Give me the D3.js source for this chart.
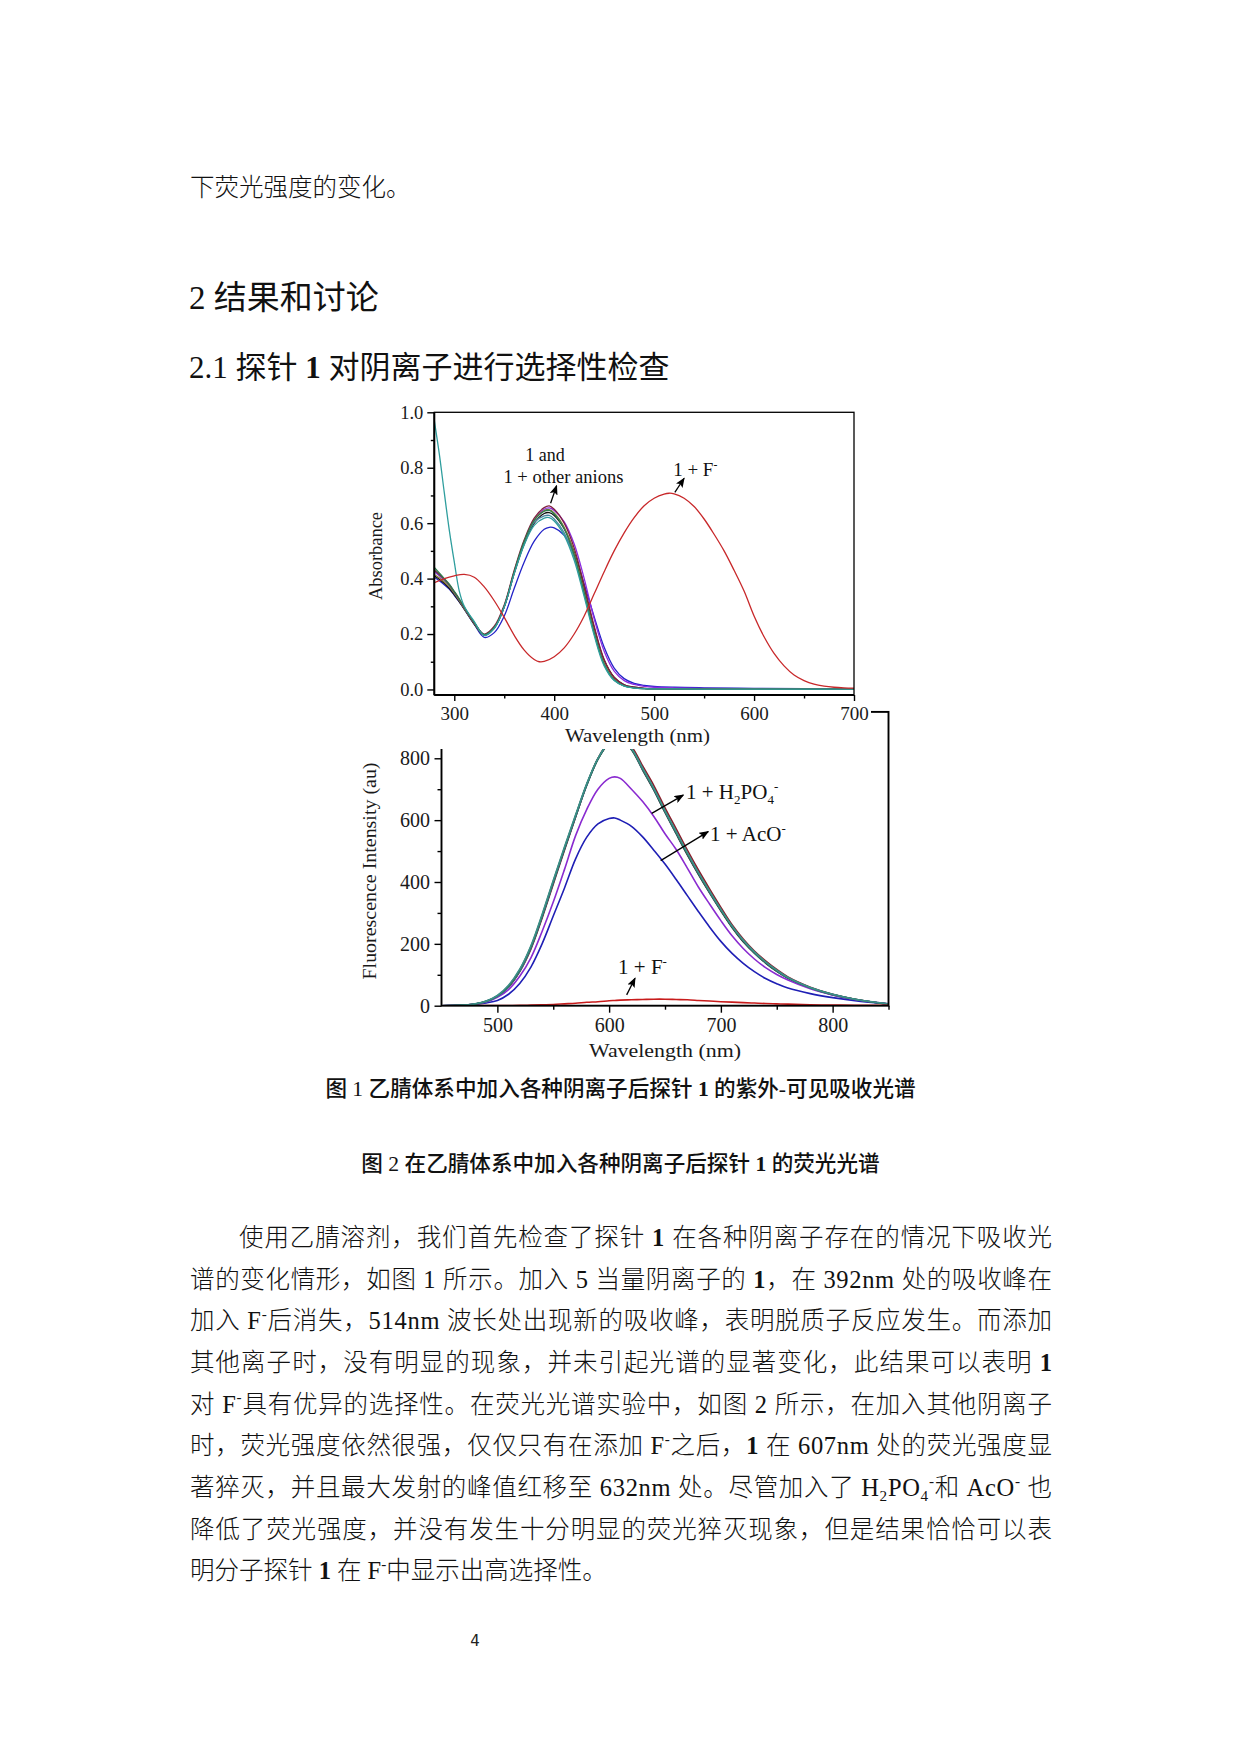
<!DOCTYPE html>
<html><head><meta charset="utf-8">
<script src="https://cdn.jsdelivr.net/npm/d3@7"></script>
<style>
html,body{margin:0;padding:0;background:#fff;}
svg{display:block;}
text{white-space:pre;}
</style></head>
<body>
<svg id="page" width="1240" height="1754"></svg>
<script>
// ---------------- DATA ----------------
// UV-vis absorption (top chart)
const wlAbs = [280,285,290,295,300,305,310,320,330,340,350,360,370,380,390,395,400,410,420,430,440,450,460,470,480,490,500,520,550,600,650,700];
const absMaroon = [0.43,0.415,0.398,0.378,0.352,0.325,0.295,0.24,0.2,0.228,0.305,0.43,0.54,0.618,0.656,0.662,0.65,0.6,0.51,0.375,0.228,0.108,0.044,0.017,0.008,0.004,0.003,0.002,0.002,0.001,0.001,0.001];
const absBlack  = [0.41,0.398,0.383,0.365,0.342,0.317,0.29,0.236,0.196,0.222,0.298,0.42,0.525,0.6,0.635,0.638,0.628,0.58,0.495,0.365,0.222,0.105,0.043,0.017,0.008,0.004,0.003,0.002,0.002,0.001,0.001,0.001];
const absPurple = [0.425,0.41,0.394,0.375,0.35,0.323,0.294,0.24,0.198,0.222,0.298,0.42,0.53,0.61,0.65,0.655,0.646,0.605,0.525,0.4,0.255,0.138,0.066,0.032,0.018,0.011,0.008,0.006,0.004,0.003,0.002,0.002];
const absBlue   = [0.405,0.392,0.378,0.362,0.34,0.316,0.29,0.235,0.188,0.205,0.265,0.365,0.46,0.535,0.578,0.585,0.583,0.556,0.49,0.38,0.262,0.152,0.077,0.039,0.022,0.015,0.011,0.008,0.006,0.004,0.003,0.003];
const absTealUV = [0.97,0.85,0.71,0.575,0.46,0.355,0.3,0.245,0.195,0.22,0.298,0.418,0.522,0.592,0.618,0.62,0.608,0.556,0.466,0.335,0.195,0.085,0.032,0.012,0.005,0.003,0.002,0.002,0.001,0.001,0.001,0.001];
const absGreen  = [0.44,0.42,0.4,0.38,0.354,0.327,0.297,0.242,0.198,0.224,0.3,0.425,0.535,0.61,0.643,0.646,0.633,0.58,0.485,0.348,0.205,0.09,0.034,0.013,0.006,0.003,0.002,0.002,0.001,0.001,0.001,0.001];
const absOlive  = [0.415,0.403,0.388,0.37,0.347,0.32,0.292,0.238,0.196,0.223,0.3,0.424,0.533,0.61,0.645,0.649,0.637,0.585,0.492,0.356,0.212,0.096,0.037,0.014,0.006,0.003,0.002,0.002,0.001,0.001,0.001,0.001];
const absSlate  = [0.43,0.414,0.396,0.376,0.35,0.323,0.294,0.24,0.197,0.223,0.299,0.422,0.53,0.603,0.626,0.628,0.615,0.565,0.476,0.343,0.202,0.09,0.034,0.013,0.006,0.003,0.002,0.002,0.001,0.001,0.001,0.001];
// 1 + F- absorption
const wlAbsF = [280,290,300,310,320,330,340,350,360,370,380,385,390,400,410,420,430,440,450,460,470,480,490,500,510,515,520,530,540,550,560,570,580,590,600,610,620,630,640,650,660,670,680,690,700];
const absF   = [0.385,0.4,0.41,0.415,0.405,0.37,0.32,0.26,0.195,0.142,0.108,0.1,0.101,0.118,0.15,0.2,0.265,0.345,0.425,0.5,0.565,0.62,0.663,0.69,0.705,0.708,0.706,0.69,0.66,0.615,0.56,0.5,0.43,0.355,0.265,0.19,0.13,0.085,0.052,0.032,0.019,0.012,0.008,0.006,0.005];

// Fluorescence (bottom chart)
const wlFl = [450,460,470,480,490,500,510,520,530,540,550,560,570,580,590,600,605,610,620,630,640,650,660,670,680,690,700,710,720,730,740,750,760,780,800,820,850];
const flMaroon = [0,0.5,2,5,13,30,60,110,183,283,393,503,610,715,800,855,868,868,838,775,712,640,572,503,438,377,318,262,216,177,145,117,93,60,37,21,5];
const flBlack  = [0,0.5,2,5,14,31,62,113,188,288,398,507,612,714,797,850,862,860,828,762,697,625,556,488,424,364,307,253,207,170,138,111,89,57,35,20,5];
const flGreen  = [0,0.5,2,5,14,32,64,116,191,292,402,510,615,716,798,852,864,862,830,766,701,629,560,492,428,368,310,256,210,172,140,113,90,58,36,21,5];
const flTeal   = [0,0.5,2,6,15,33,66,118,194,295,405,513,617,718,800,853,865,864,832,768,703,631,563,495,430,370,312,258,212,174,142,115,91,59,37,21,6];
const flSlate  = [0,0.5,2,5,13,30,61,111,186,287,397,506,611,713,797,851,864,862,829,763,699,627,558,490,426,366,309,255,209,171,139,112,90,58,36,21,5];
const flPurple = [0,0.5,2,5,12,27,52,95,155,240,335,440,550,635,700,735,740,735,700,660,612,556,505,445,383,328,275,226,185,151,123,101,83,55,35,20,6];
const flBlue   = [0,0.5,1.5,4,9,17,37,72,125,200,290,380,475,545,588,605,607,600,580,546,503,458,408,356,304,254,208,169,137,110,88,71,57,39,26,16,5];
const flF      = [0,0,0,0,0.3,0.5,0.8,1,2,3,4,6,8,11,13,16,17,18,19,20,21,21,20,19,17,15,13,11.5,10,8.5,7,6,5,3,2,1.5,1];

// ticks
const absXTicks = [300,400,500,600,700];
const absXMinor = [350,450,550,650];
const absYTicks = [0,0.2,0.4,0.6,0.8,1.0];
const absYMinor = [0.1,0.3,0.5,0.7,0.9];
const flXTicks = [500,600,700,800];
const flXMinor = [550,650,750,850];
const flYTicks = [0,200,400,600,800];
const flYMinor = [100,300,500,700,900];

// text content
const introLine = "下荧光强度的变化。";
const heading1 = "2 结果和讨论";
const heading2 = "2.1 探针 [b:1] 对阴离子进行选择性检查";
const caption1 = "图 1 乙腈体系中加入各种阴离子后探针 [b:1] 的紫外-可见吸收光谱";
const caption2 = "图 2 在乙腈体系中加入各种阴离子后探针 [b:1] 的荧光光谱";
const bodyLines = [
  "使用乙腈溶剂，我们首先检查了探针 [b:1] 在各种阴离子存在的情况下吸收光",
  "谱的变化情形，如图 1 所示。加入 5 当量阴离子的 [b:1]，在 392nm 处的吸收峰在",
  "加入 F[sup:-]后消失，514nm 波长处出现新的吸收峰，表明脱质子反应发生。而添加",
  "其他离子时，没有明显的现象，并未引起光谱的显著变化，此结果可以表明 [b:1]",
  "对 F[sup:-]具有优异的选择性。在荧光光谱实验中，如图 2 所示，在加入其他阴离子",
  "时，荧光强度依然很强，仅仅只有在添加 F[sup:-]之后，[b:1] 在 607nm 处的荧光强度显",
  "著猝灭，并且最大发射的峰值红移至 632nm 处。尽管加入了 H[sub:2]PO[sub:4][sup:-]和 AcO[sup:-] 也",
  "降低了荧光强度，并没有发生十分明显的荧光猝灭现象，但是结果恰恰可以表",
  "明分子探针 [b:1] 在 F[sup:-]中显示出高选择性。"
];
const pageNumber = "4";

// ---------------- DRAW ----------------
const SERIF = "'Liberation Serif','Times New Roman',serif";
const MIX = "'Liberation Serif','Noto Sans CJK SC',serif";
const svg = d3.select('#page');

function rich(sel, str, o) {
  const t = sel.append('text').attr('x', o.x).attr('y', o.y)
    .attr('font-size', o.size).attr('font-family', o.family || MIX)
    .attr('font-weight', o.weight || 400).attr('fill', o.fill || '#111');
  if (o.anchor) t.attr('text-anchor', o.anchor);
  const re = /\[(b|sup|sub):([^\]]*)\]/g;
  let last = 0, m; const parts = [];
  while ((m = re.exec(str))) {
    if (m.index > last) parts.push(['n', str.slice(last, m.index)]);
    parts.push([m[1], m[2]]); last = re.lastIndex;
  }
  if (last < str.length) parts.push(['n', str.slice(last)]);
  let off = 0;
  parts.forEach(([k, s]) => {
    const sp = t.append('tspan').text(s);
    let target = 0;
    if (k === 'sup') { target = -o.size * 0.42; sp.attr('font-size', o.size * 0.62).attr('font-family', SERIF); }
    else if (k === 'sub') { target = o.size * 0.22; sp.attr('font-size', o.size * 0.62).attr('font-family', SERIF); }
    else if (k === 'b') { sp.attr('font-weight', 700).attr('font-family', SERIF); }
    if (target !== off) { sp.attr('dy', target - off); off = target; }
  });
  return t;
}

// page text
rich(svg, introLine, {x: 190, y: 195.5, size: 24.5, weight: 300});
rich(svg, heading1, {x: 189, y: 308.5, size: 33});
rich(svg, heading2, {x: 189, y: 377.5, size: 31});
rich(svg, caption1, {x: 620.5, y: 1096, size: 21.6, anchor: 'middle', weight: 500});
rich(svg, caption2, {x: 620.5, y: 1171, size: 21.6, anchor: 'middle', weight: 500});
bodyLines.forEach((s, i) => {
  const x = i === 0 ? 239 : 190;
  const t = rich(svg, s, {x: x, y: 1245.8 + i * 41.7, size: 24.5, weight: 300});
  if (i < bodyLines.length - 1) {
    const w = t.node().getComputedTextLength();
    const n = t.node().getNumberOfChars();
    const extra = (1052 - x) - w;
    if (n > 1) t.attr('letter-spacing', extra / (n - 1));
  }
});
svg.append('text').attr('x', 475).attr('y', 1646).attr('text-anchor', 'middle')
  .attr('font-family', "'DejaVu Sans',sans-serif").attr('font-size', 15).attr('fill', '#222').text(pageNumber);

// arrow marker
const defs = svg.append('defs');
defs.append('marker').attr('id', 'ah').attr('markerUnits', 'userSpaceOnUse')
  .attr('markerWidth', 10).attr('markerHeight', 8).attr('refX', 9).attr('refY', 4)
  .attr('orient', 'auto').append('path').attr('d', 'M0,0 L10,4 L0,8 L2,4 Z').attr('fill', '#000');

function styleAxis(g, size) {
  g.attr('font-family', SERIF).attr('font-size', size);
  g.select('.domain').remove();
  g.selectAll('line').attr('stroke', '#000').attr('stroke-width', 1.4);
  g.selectAll('text').attr('fill', '#1a1a1a');
}

// ======== Bottom chart (fluorescence) ========
const xF = d3.scaleLinear().domain([450, 850]).range([441.5, 888.5]);
const yF = d3.scaleLinear().domain([0, 950]).range([1005.7, 711.9]);
const gF = svg.append('g');
defs.append('clipPath').attr('id', 'clipF').append('rect')
  .attr('x', xF.range()[0]).attr('y', yF.range()[1])
  .attr('width', xF.range()[1] - xF.range()[0]).attr('height', yF.range()[0] - yF.range()[1]);

const flSeries = [
  {v: flMaroon, c: '#8b1c2a'}, {v: flBlack, c: '#151515'},
  {v: flBlue, c: '#1f1fb5'}, {v: flPurple, c: '#8a2bd0'},
  {v: flSlate, c: '#3f7596'}, {v: flGreen, c: '#2f6f45'},
  {v: flTeal, c: '#3b8f8a'}, {v: flF, c: '#c81c1c'}
];
const lineF = d3.line().x((d, i) => xF(wlFl[i])).y(d => yF(d)).curve(d3.curveCatmullRom.alpha(0.5));
gF.append('g').attr('clip-path', 'url(#clipF)').selectAll('path').data(flSeries).join('path')
  .attr('d', d => lineF(d.v)).attr('fill', 'none').attr('stroke', d => d.c).attr('stroke-width', 1.6);

const fxAxis = gF.append('g').attr('transform', `translate(0,${yF.range()[0]})`)
  .call(d3.axisBottom(xF).tickValues(flXTicks).tickSize(7).tickSizeOuter(0).tickPadding(5).tickFormat(d3.format('d')));
styleAxis(fxAxis, 20);
const fxMin = gF.append('g').attr('transform', `translate(0,${yF.range()[0]})`)
  .call(d3.axisBottom(xF).tickValues(flXMinor).tickSize(4).tickSizeOuter(0).tickFormat(''));
styleAxis(fxMin, 10);
const fyAxis = gF.append('g').attr('transform', `translate(${xF.range()[0]},0)`)
  .call(d3.axisLeft(yF).tickValues(flYTicks).tickSize(7).tickSizeOuter(0).tickPadding(4.5).tickFormat(d3.format('d')));
styleAxis(fyAxis, 20);
const fyMin = gF.append('g').attr('transform', `translate(${xF.range()[0]},0)`)
  .call(d3.axisLeft(yF).tickValues(flYMinor).tickSize(4).tickSizeOuter(0).tickFormat(''));
styleAxis(fyMin, 10);
gF.append('rect').attr('x', xF.range()[0]).attr('y', yF.range()[1])
  .attr('width', xF.range()[1] - xF.range()[0]).attr('height', yF.range()[0] - yF.range()[1])
  .attr('fill', 'none').attr('stroke', '#000').attr('stroke-width', 1.9);

gF.append('text').attr('x', 665).attr('y', 1057).attr('text-anchor', 'middle')
  .attr('font-family', SERIF).attr('font-size', 19.5).attr('textLength', 152).attr('lengthAdjust', 'spacingAndGlyphs')
  .attr('fill', '#1a1a1a').text('Wavelength (nm)');
gF.append('text').attr('transform', 'translate(376,871) rotate(-90)').attr('text-anchor', 'middle')
  .attr('font-family', SERIF).attr('font-size', 19.5).attr('textLength', 217).attr('lengthAdjust', 'spacingAndGlyphs')
  .attr('fill', '#1a1a1a').text('Fluorescence Intensity (au)');

// annotations bottom
const annF = [
  {t: '1 + H[sub:2]PO[sub:4][sup:-]', tx: 668.8, ty: 668, a: [638.1, 622, 666.4, 681]},
  {t: '1 + AcO[sup:-]', tx: 690.3, ty: 532, a: [646.1, 469, 688.7, 563]},
  {t: '1 + F[sup:-]', tx: 608, ty: 102, a: [615.7, 35, 623.2, 89]}
];
annF.forEach(d => {
  rich(gF, d.t, {x: xF(d.tx), y: yF(d.ty), size: 21, family: SERIF, fill: '#111'});
  gF.append('line').attr('x1', xF(d.a[0])).attr('y1', yF(d.a[1])).attr('x2', xF(d.a[2])).attr('y2', yF(d.a[3]))
    .attr('stroke', '#000').attr('stroke-width', 1.3).attr('marker-end', 'url(#ah)');
});

// ======== Top chart (absorption) ========
const xA = d3.scaleLinear().domain([280, 700]).range([434.3, 854]);
const yA = d3.scaleLinear().domain([-0.02, 1.0]).range([695, 412.3]);
const gA = svg.append('g');
// white background of the top figure, overlapping the lower one
gA.append('rect').attr('x', 330).attr('y', 395).attr('width', 541).attr('height', 354).attr('fill', '#fff');
defs.append('clipPath').attr('id', 'clipA').append('rect')
  .attr('x', xA.range()[0]).attr('y', yA.range()[1])
  .attr('width', xA.range()[1] - xA.range()[0]).attr('height', yA.range()[0] - yA.range()[1]);

const absSeries = [
  {v: absBlue, c: '#2323c8'}, {v: absPurple, c: '#8a2be2'}, {v: absBlack, c: '#111111'},
  {v: absOlive, c: '#8a7d3a'}, {v: absSlate, c: '#4a86a0'}, {v: absMaroon, c: '#80203f'},
  {v: absGreen, c: '#2e7d4e'}, {v: absTealUV, c: '#2f9e9e'}
];
const lineA = d3.line().x((d, i) => xA(wlAbs[i])).y(d => yA(d)).curve(d3.curveCatmullRom.alpha(0.5));
const lineAF = d3.line().x((d, i) => xA(wlAbsF[i])).y(d => yA(d)).curve(d3.curveCatmullRom.alpha(0.5));
const cA = gA.append('g').attr('clip-path', 'url(#clipA)');
cA.selectAll('path.s').data(absSeries).join('path').attr('class', 's')
  .attr('d', d => lineA(d.v)).attr('fill', 'none').attr('stroke', d => d.c).attr('stroke-width', 1.3);
cA.append('path').attr('d', lineAF(absF)).attr('fill', 'none').attr('stroke', '#c8282a').attr('stroke-width', 1.3);

const axA = gA.append('g').attr('transform', `translate(0,${yA.range()[0]})`)
  .call(d3.axisBottom(xA).tickValues(absXTicks).tickSize(6).tickSizeOuter(0).tickPadding(6).tickFormat(d3.format('d')));
styleAxis(axA, 19);
const axAm = gA.append('g').attr('transform', `translate(0,${yA.range()[0]})`)
  .call(d3.axisBottom(xA).tickValues(absXMinor).tickSize(3.5).tickSizeOuter(0).tickFormat(''));
styleAxis(axAm, 10);
const ayA = gA.append('g').attr('transform', `translate(${xA.range()[0]},0)`)
  .call(d3.axisLeft(yA).tickValues(absYTicks).tickSize(7).tickSizeOuter(0).tickPadding(4).tickFormat(d3.format('.1f')));
styleAxis(ayA, 18.5);
const ayAm = gA.append('g').attr('transform', `translate(${xA.range()[0]},0)`)
  .call(d3.axisLeft(yA).tickValues(absYMinor).tickSize(3.5).tickSizeOuter(0).tickFormat(''));
styleAxis(ayAm, 10);
gA.append('rect').attr('x', xA.range()[0]).attr('y', yA.range()[1])
  .attr('width', xA.range()[1] - xA.range()[0]).attr('height', yA.range()[0] - yA.range()[1])
  .attr('fill', 'none').attr('stroke', '#000').attr('stroke-width', 1.3);
gA.append('line').attr('x1', xA.range()[0]).attr('x2', xA.range()[0]).attr('y1', yA.range()[1]).attr('y2', yA.range()[0])
  .attr('stroke', '#000').attr('stroke-width', 2);
gA.append('line').attr('x1', xA.range()[0]).attr('x2', xA.range()[1]).attr('y1', yA.range()[0]).attr('y2', yA.range()[0])
  .attr('stroke', '#000').attr('stroke-width', 2);

gA.append('text').attr('x', 637.5).attr('y', 742).attr('text-anchor', 'middle')
  .attr('font-family', SERIF).attr('font-size', 19).attr('textLength', 145).attr('lengthAdjust', 'spacingAndGlyphs')
  .attr('fill', '#1a1a1a').text('Wavelength (nm)');
gA.append('text').attr('transform', 'translate(382,556) rotate(-90)').attr('text-anchor', 'middle')
  .attr('font-family', SERIF).attr('font-size', 18.5).attr('textLength', 88).attr('lengthAdjust', 'spacingAndGlyphs')
  .attr('fill', '#1a1a1a').text('Absorbance');

// annotations top
rich(gA, '1 and', {x: xA(390.7), y: yA(0.824), size: 18, family: SERIF, anchor: 'middle'});
rich(gA, '1 + other anions', {x: xA(409.2), y: yA(0.745), size: 18.5, family: SERIF, anchor: 'middle'});
rich(gA, '1 + F[sup:-]', {x: xA(519), y: yA(0.77), size: 19, family: SERIF});
[[396.4, 0.672, 402.4, 0.735], [520.7, 0.711, 530, 0.762]].forEach(a => {
  gA.append('line').attr('x1', xA(a[0])).attr('y1', yA(a[1])).attr('x2', xA(a[2])).attr('y2', yA(a[3]))
    .attr('stroke', '#000').attr('stroke-width', 1.3).attr('marker-end', 'url(#ah)');
});
</script>
</body></html>
